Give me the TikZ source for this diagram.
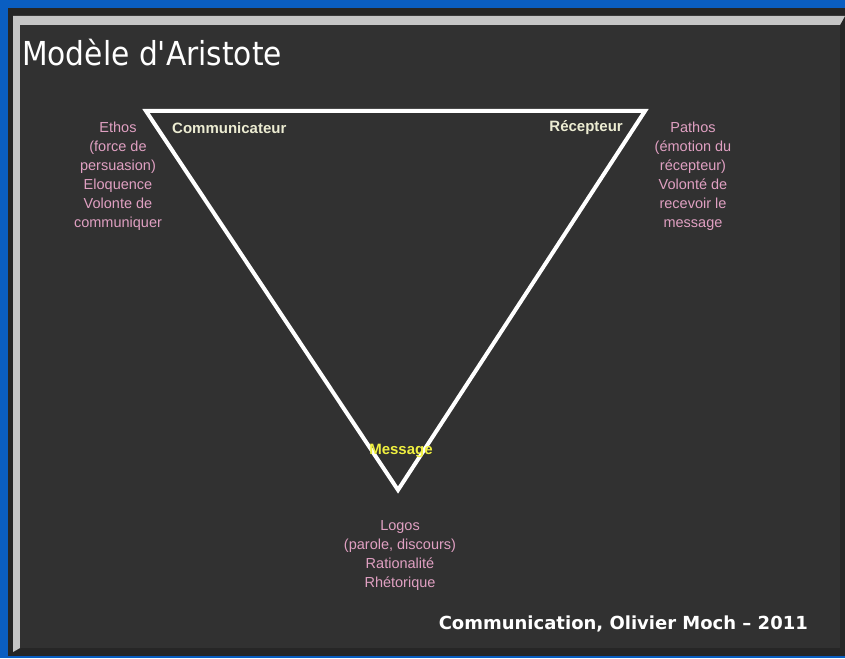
\documentclass[tikz,border=0pt]{standalone}
\usepackage{fontspec}
\setmainfont{Liberation Sans}
\newfontfamily\titlefont{DejaVu Sans Condensed}
\newfontfamily\footfont{DejaVu Sans}
\usetikzlibrary{positioning}
\definecolor{C0}{HTML}{0A5EC2}
\definecolor{C1}{HTML}{313131}
\definecolor{C2}{HTML}{E0A0C2}
\definecolor{C3}{HTML}{ECECD2}
\definecolor{C4}{HTML}{F0F040}
\tikzset{
  pinktext/.style={C2, align=center, font=\fontsize{14.5}{19}\selectfont},
  corner/.style={C3, font=\fontsize{15}{17}\selectfont\bfseries},
}

\begin{document}
\begin{tikzpicture}[x=1pt, y=-1pt]
    % slide frame
    \fill [C0] (0,0) rectangle (845,658);
    \fill [black!85] (8,8) rectangle (845,656);
    \fill [gray!45] (13,16) -- (845,16) -- (840,25) -- (20,25) -- (20,648) -- (13,652) -- cycle;
    \fill [C1] (20,25) rectangle (840,648);
    \node [anchor=base west, white, inner sep=0pt] (title) at (22,66) {\titlefont\fontsize{33}{36}\selectfont Modèle d'Aristote};
    % triangle
    \coordinate (comm) at (146,111);
    \coordinate (recep) at (645,111);
    \coordinate (msg) at (398,490);
    \draw [white, line width=4pt, line join=miter] (comm) -- (recep) -- (msg) -- cycle;
    \node [corner, anchor=west, inner sep=0pt] (commlab) at (172,128) {Communicateur};
    \node [corner, anchor=east, inner sep=0pt] (receplab) at (623,128) {Récepteur};
    \node [corner, C4, inner sep=0pt] (msglab) at (401,451) {Message};
    \node [pinktext] (ethos) at (118,176) {Ethos\\(force de\\persuasion)\\Eloquence\\Volonte de\\communiquer};
    \node [pinktext] (pathos) at (693,176) {Pathos\\(émotion du\\récepteur)\\Volonté de\\recevoir le\\message};
    \node [pinktext] (logos) at (400,556) {Logos\\(parole, discours)\\Rationalité\\Rhétorique};
    \node [anchor=base east, white, inner sep=0pt] (credit) at (808,629) {\footfont\fontsize{18}{20}\selectfont\bfseries Communication, Olivier Moch – 2011};
\end{tikzpicture}
\end{document}
